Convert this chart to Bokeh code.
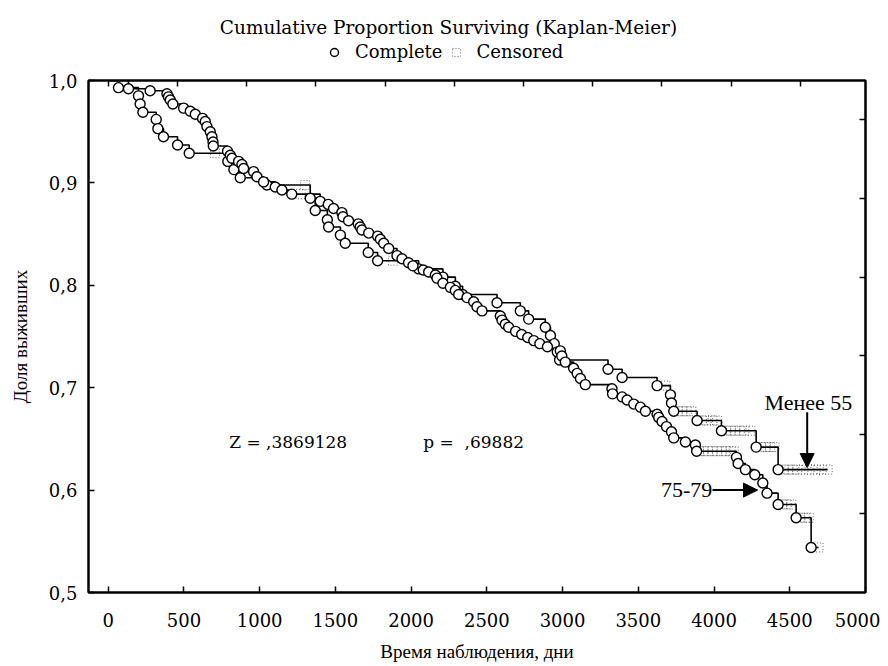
import numpy as np
from bokeh.plotting import figure
from bokeh.layouts import column
from bokeh.models import (Range1d, FixedTicker, LinearAxis, CustomJSTickFormatter, Label,
                          Arrow, NormalHead, Legend, LegendItem)
from bokeh.embed import file_html
from bokeh.resources import INLINE

# ---------------- data ----------------
# Group "Менее 55": event times (days) and survival after each event
young_t = [68, 200, 211, 229, 317, 328, 365, 458, 535, 790, 830, 872, 1048, 1334, 1367,
           1447, 1455, 1533, 1565, 1717, 1779, 2050, 2210, 2292, 2340, 2567, 2721, 2776,
           2886, 2920, 2945, 2965, 2980, 3300, 3393, 3624, 3712, 3719, 3734, 3888, 4049,
           4278, 4423]
young_s = [0.993, 0.985, 0.977, 0.969, 0.962, 0.953, 0.945, 0.937, 0.929, 0.921, 0.913,
           0.905, 0.898, 0.885, 0.873, 0.864, 0.857, 0.849, 0.841, 0.832, 0.824, 0.816,
           0.808, 0.799, 0.791, 0.783, 0.775, 0.767, 0.759, 0.751, 0.743, 0.735, 0.727,
           0.718, 0.710, 0.702, 0.693, 0.685, 0.677, 0.668, 0.658, 0.642, 0.620]
young_cens = [705, 1300, 1880, 3680, 3760, 3790, 3820, 3850, 3920, 3950, 3990, 4020,
              4080, 4110, 4140, 4170, 4200, 4240, 4310, 4340, 4370, 4400, 4460, 4490,
              4520, 4550, 4590, 4630, 4670, 4710, 4750]

# Group "75-79"
old_t = [134, 277, 388, 398, 410, 427, 498, 542, 575, 623, 641, 652, 674, 685, 692, 694,
         788, 806, 817, 861, 883, 894, 960, 982, 1026, 1103, 1147, 1212, 1400, 1453, 1488,
         1543, 1550, 1587, 1651, 1664, 1675, 1720, 1779, 1797, 1819, 1852, 1907, 1940,
         1983, 2012, 2080, 2116, 2160, 2171, 2210, 2259, 2292, 2314, 2369, 2413, 2435,
         2468, 2589, 2600, 2622, 2644, 2690, 2730, 2770, 2810, 2850, 2900, 2985, 2995,
         3018, 3073, 3096, 3118, 3150, 3326, 3330, 3393, 3426, 3470, 3514, 3547, 3624,
         3635, 3657, 3686, 3719, 3734, 3811, 3877, 3885, 4148, 4159, 4207, 4269, 4322,
         4350, 4423, 4542, 4641]
old_s = [0.992, 0.990, 0.987, 0.984, 0.981, 0.977, 0.973, 0.970, 0.967, 0.963, 0.960,
         0.955, 0.950, 0.945, 0.940, 0.936, 0.931, 0.927, 0.924, 0.921, 0.918, 0.914,
         0.911, 0.906, 0.901, 0.896, 0.893, 0.889, 0.882, 0.879, 0.875, 0.871, 0.867,
         0.863, 0.860, 0.857, 0.854, 0.851, 0.848, 0.845, 0.841, 0.836, 0.829, 0.826,
         0.822, 0.819, 0.815, 0.813, 0.810, 0.807, 0.802, 0.798, 0.795, 0.791, 0.788,
         0.784, 0.779, 0.775, 0.770, 0.766, 0.762, 0.759, 0.755, 0.752, 0.749, 0.746,
         0.743, 0.740, 0.736, 0.731, 0.725, 0.719, 0.714, 0.709, 0.703, 0.699, 0.694,
         0.691, 0.688, 0.684, 0.681, 0.677, 0.674, 0.671, 0.667, 0.662, 0.657, 0.651,
         0.647, 0.644, 0.638, 0.632, 0.626, 0.620, 0.615, 0.607, 0.597, 0.586, 0.573,
         0.544]
old_cens = [1270, 3900, 3930, 3960, 3990, 4020, 4050, 4080, 4110, 4130, 4450, 4480, 4510,
            4570, 4600, 4625, 4690]

x_ticks = [0, 500, 1000, 1500, 2000, 2500, 3000, 3500, 4000, 4500, 5000]
y_ticks = [0.5, 0.6, 0.7, 0.8, 0.9, 1.0]
# the frame's top and right edges carry their own (unlabelled) tick spacing
top_ticks = [0, 457, 914, 1371, 1828, 2285, 2742, 3199, 3656, 4113, 4570]
right_ticks = [0.577, 0.654, 0.731, 0.808, 0.885, 0.962]

title_text = "Cumulative Proportion Surviving (Kaplan-Meier)"
z_text = "Z = ,3869128"
p_text = "p =\u00a0\u00a0,69882"
young_name = "Менее 55"
old_name = "75-79"

GEO = "DejaVu Serif"
TIMES = "Liberation Serif"
W = 880
HEAD_H = 70
FRAME_L, FRAME_R = 88, 865

CIRCLE_STYLE = dict(marker="circle", size=10, fill_color="white", line_color="black",
                    line_width=1.4)
CENS_STYLE = dict(marker="square", size=9, fill_color=None, line_color="#333333",
                  line_width=1, line_dash="1 2", line_alpha=0.75)

# ---------------- header: title and legend ----------------
head = figure(width=W, height=HEAD_H, x_range=Range1d(FRAME_L, FRAME_R),
              y_range=Range1d(0, HEAD_H), output_backend="svg", toolbar_location=None,
              x_axis_location=None, y_axis_location=None,
              min_border_left=0, min_border_right=0, min_border_top=0, min_border_bottom=0)
head.grid.visible = False
head.outline_line_color = None
head.add_layout(Label(x=448, y=HEAD_H - 27, text=title_text, text_align="center",
                      text_baseline="middle", text_font=GEO, text_font_size="18.5px",
                      text_color="black"))
# legend keys (kept off-canvas, only their legend glyphs show)
leg_c = head.scatter([-1000], [-1000], **CIRCLE_STYLE)
leg_x = head.scatter([-1000], [-1000], **CENS_STYLE)
legend = Legend(items=[LegendItem(label="Complete", renderers=[leg_c]),
                       LegendItem(label="Censored", renderers=[leg_x])],
                orientation="horizontal", location=(324 - FRAME_L, HEAD_H - 62),
                glyph_width=20, glyph_height=20, label_standoff=11, spacing=3,
                padding=0, margin=0, border_line_color=None, background_fill_alpha=0,
                label_text_font=GEO, label_text_font_size="18px", label_text_color="black")
head.add_layout(legend, "center")

# ---------------- main plot ----------------
p = figure(width=W, height=664 - HEAD_H, x_range=Range1d(-130, 5000),
           y_range=Range1d(0.5, 1.0), output_backend="svg", toolbar_location=None,
           min_border_left=FRAME_L, min_border_right=W - FRAME_R,
           min_border_top=80 - HEAD_H, min_border_bottom=69)
p.title.visible = False
p.grid.visible = False
p.outline_line_color = "black"
p.outline_line_width = 2


def step_arrays(t, s, cens):
    last = max(max(t), max(cens))
    xs = [0] + list(t) + [last]
    ys = [1.0] + list(s) + [s[-1]]
    return xs, ys


def cens_y(t, s, cens):
    tt = np.array([0] + list(t))
    ss = np.array([1.0] + list(s))
    idx = np.searchsorted(tt, np.array(cens), side="right") - 1
    return list(ss[idx])


groups = [(young_t, young_s, young_cens), (old_t, old_s, old_cens)]
for t, s, c in groups:
    xs, ys = step_arrays(t, s, c)
    p.step(xs, ys, mode="after", line_color="black", line_width=1.6)
for t, s, c in groups:
    p.scatter(c, cens_y(t, s, c), **CENS_STYLE)
for t, s, c in groups:
    p.scatter(t, s, **CIRCLE_STYLE)

p.xaxis[0].ticker = FixedTicker(ticks=x_ticks)
p.xaxis[0].formatter = CustomJSTickFormatter(code="return tick.toFixed(0);")
p.yaxis[0].ticker = FixedTicker(ticks=y_ticks)
p.yaxis[0].formatter = CustomJSTickFormatter(code="return tick.toFixed(1).replace('.', ',');")

for ax in p.xaxis + p.yaxis:
    ax.major_tick_in = 6
    ax.major_tick_out = 0
    ax.minor_tick_line_color = None
    ax.axis_line_width = 2
    ax.major_tick_line_width = 1.5
    ax.major_label_text_font = GEO
    ax.major_label_text_font_size = "18px"
    ax.major_label_text_color = "black"
    ax.axis_label_text_font = TIMES
    ax.axis_label_text_font_size = "19px"
    ax.axis_label_text_font_style = "normal"
    ax.axis_label_text_color = "black"

p.xaxis.major_label_standoff = 20
p.xaxis.axis_label = "Время наблюдения, дни"
p.xaxis.axis_label_standoff = 11
p.yaxis.major_label_standoff = 11
p.yaxis.axis_label = "Доля выживших"
p.yaxis.axis_label_standoff = 15

top = LinearAxis(ticker=FixedTicker(ticks=top_ticks), major_label_text_font_size="0px",
                 major_tick_in=6, major_tick_out=0, minor_tick_line_color=None,
                 axis_line_width=2, major_tick_line_width=1.5, major_label_standoff=0)
right = LinearAxis(ticker=FixedTicker(ticks=right_ticks), major_label_text_font_size="0px",
                   major_tick_in=6, major_tick_out=0, minor_tick_line_color=None,
                   axis_line_width=2, major_tick_line_width=1.5, major_label_standoff=0)
p.add_layout(top, "above")
p.add_layout(right, "right")

p.add_layout(Label(x=799, y=0.647, text=z_text, text_baseline="middle",
                   text_font=GEO, text_font_size="17px", text_color="black"))
p.add_layout(Label(x=2080, y=0.647, text=p_text, text_baseline="middle",
                   text_font=GEO, text_font_size="17px", text_color="black"))

p.add_layout(Label(x=4333, y=0.686, text=young_name, text_baseline="middle",
                   text_font=TIMES, text_font_size="22px", text_color="black"))
p.add_layout(Arrow(x_start=4615, y_start=0.676, x_end=4615, y_end=0.622,
                   line_color="black", line_width=2,
                   end=NormalHead(size=14, fill_color="black", line_color="black")))
p.add_layout(Label(x=3988, y=0.600, text=old_name, text_align="right", text_baseline="middle",
                   text_font=TIMES, text_font_size="22px", text_color="black"))
p.add_layout(Arrow(x_start=3990, y_start=0.600, x_end=4287, y_end=0.600,
                   line_color="black", line_width=2,
                   end=NormalHead(size=14, fill_color="black", line_color="black")))

layout = column(head, p, spacing=0)
open("out.html", "w").write(file_html(layout, INLINE))
